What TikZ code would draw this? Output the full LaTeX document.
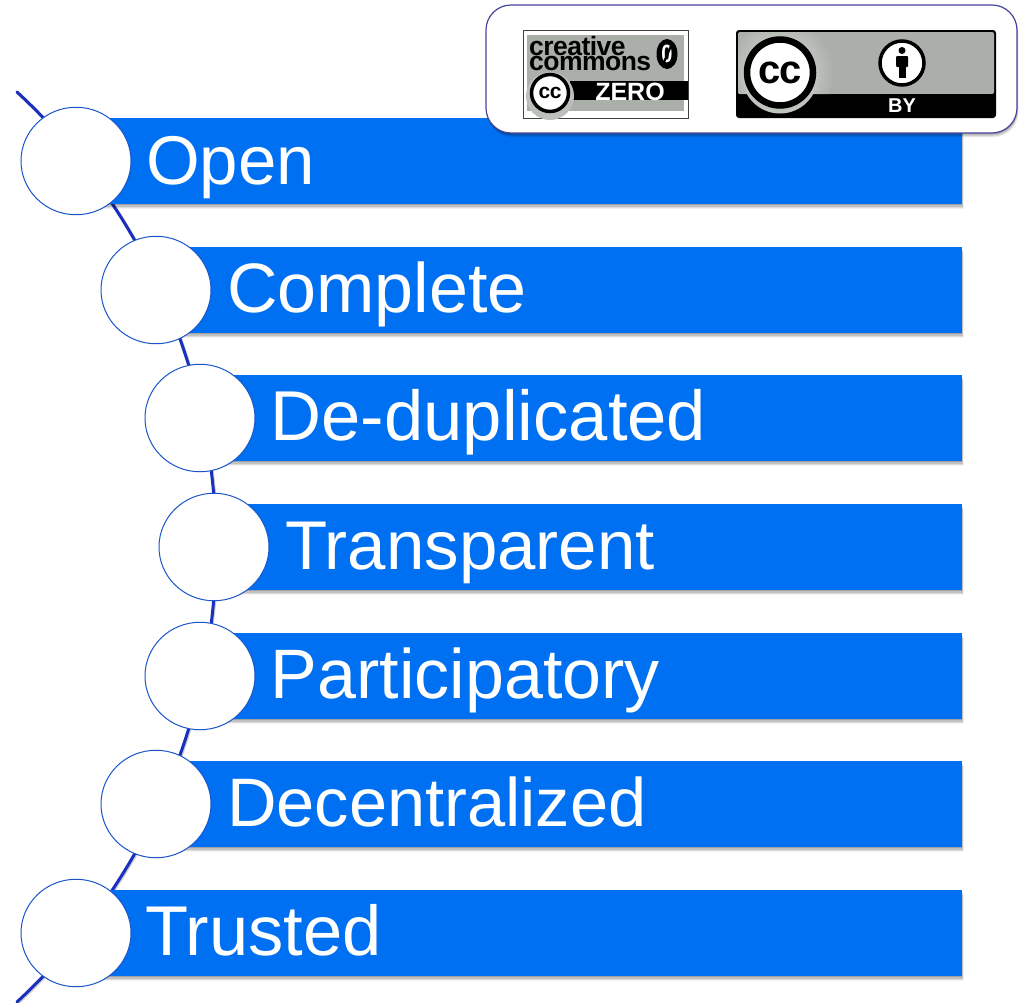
\documentclass[tikz,border=0pt]{standalone}
\usepackage{fontspec}
\usetikzlibrary{shapes.geometric}
\setmainfont{Liberation Sans}
\definecolor{barblue}{HTML}{0070F2}
\definecolor{ringblue}{HTML}{1A56C8}
\definecolor{arcblue}{HTML}{1A2FBE}
\definecolor{ccgray}{HTML}{AAB0A9}
\definecolor{paneledge}{HTML}{46469A}
\tikzset{
  softshadow/.style={preaction={fill=black,opacity=.05,transform canvas={xshift=1.5pt,yshift=-4.5pt}},
                     preaction={fill=black,opacity=.09,transform canvas={xshift=1pt,yshift=-3.5pt}},
                     preaction={fill=black,opacity=.12,transform canvas={xshift=.7pt,yshift=-2.5pt}},
                     preaction={fill=black,opacity=.16,transform canvas={xshift=.3pt,yshift=-1.2pt}}},
  bar/.style={rectangle,fill=barblue,draw=none,inner sep=0,minimum height=86pt,softshadow},
  disc/.style={ellipse,fill=white,draw=ringblue,line width=1pt,inner sep=0,minimum width=110pt,minimum height=107.5pt},
  bartext/.style={anchor=base west,inner sep=0,text=white,font=\fontsize{#1}{80}\selectfont},
  panel/.style={rectangle,rounded corners=25pt,fill=white,draw=paneledge,line width=1.2pt,inner sep=0,
                minimum width=531pt,minimum height=128pt},
  logotext/.style={inner sep=0,font=\bfseries},
}
\begin{document}
\begin{tikzpicture}[x=1pt,y=-1pt]
\useasboundingbox (0,0) rectangle (1022,1002);
\fill[white] (0,0) rectangle (1022,1002);
% backbone arc
\coordinate (arcstart) at (17,92);
\draw[black!40,opacity=.5,line width=3pt,line cap=round,transform canvas={xshift=1pt,yshift=-1pt}] (arcstart) arc[start angle=-47.24,end angle=47.24,radius=619.7];
\draw[arcblue,line width=3pt,line cap=round] (arcstart) arc[start angle=-47.24,end angle=47.24,radius=619.7];
% bars
\node[bar,minimum width=886pt] (b1) at (519,161) {};
\node[bar,minimum width=806pt] (b2) at (559,290) {};
\node[bar,minimum width=762pt] (b3) at (581,418) {};
\node[bar,minimum width=748pt] (b4) at (588,547) {};
\node[bar,minimum width=762pt] (b5) at (581,676) {};
\node[bar,minimum width=806pt] (b6) at (559,804) {};
\node[bar,minimum width=886pt] (b7) at (519,933) {};
% discs
\node[disc] (c1) at (76,161) {};
\node[disc] (c2) at (156,290) {};
\node[disc] (c3) at (200,418) {};
\node[disc] (c4) at (214,547) {};
\node[disc] (c5) at (200,676) {};
\node[disc] (c6) at (156,804) {};
\node[disc] (c7) at (76,933) {};
% labels
\node[bartext=69] (t1) at (146,184) {Open};
\node[bartext=70] (t2) at (227,312.5) {Complete};
\node[bartext=70.6] (t3) at (270.5,440) {De-duplicated};
\node[bartext=69] (t4) at (285,569) {Transparent};
\node[bartext=70] (t5) at (270.5,698) {Participatory};
\node[bartext=68.6] (t6) at (227,826) {Decentralized};
\node[bartext=70.5] (t7) at (145,955) {Trusted};
% licence panel
\node[panel,softshadow] (panel) at (751.5,69) {};
% CC0 badge
\draw[black!75,fill=white,line width=1pt] (523.5,30.5) rectangle (688.5,118);
\fill[ccgray] (527,35) rectangle (684,111);
\fill[black] (570,81) rectangle (688,100);
\node[logotext,anchor=north west,align=left,font=\bfseries\fontsize{26.5}{15.5}\selectfont] (cr) at (529,36) {\addfontfeature{LetterSpace=-2}creative\\\addfontfeature{LetterSpace=-2}commons};
\fill[black] (667,54) ellipse[x radius=10.5,y radius=15];
\node[logotext,text=white,font=\bfseries\fontsize{25}{25}\selectfont] (zero0) at (667,54) {\scalebox{.8}[1]{0}};
\fill[ccgray!80!white] (550,96) circle[radius=24];
\node[circle,fill=white,draw=black,line width=3.5pt,minimum size=37pt,inner sep=0,font=\bfseries\fontsize{21}{21}\selectfont] (cc1) at (550,93) {\addfontfeature{LetterSpace=-2}cc};
\node[logotext,text=white,font=\bfseries\fontsize{25}{25}\selectfont] (zero) at (630,92) {ZERO};
% CC BY badge
\fill[black,rounded corners=3pt] (736,30) rectangle (996,118);
\begin{scope}
\clip[rounded corners=2pt] (738,32) rectangle (994,94);
\fill[ccgray] (736,30) rectangle (996,94);
\shade[inner color=ccgray!35!white,outer color=ccgray] (780,72.5) circle[radius=54];
\end{scope}
\fill[ccgray!75!white] (780,75.5) circle[radius=38];
\node[circle,fill=white,draw=black,line width=6.5pt,minimum size=66pt,inner sep=0,font=\bfseries\fontsize{40}{40}\selectfont] (cc2) at (780,72.5) {\addfontfeature{LetterSpace=-2}cc};
\node[circle,fill=white,draw=black,line width=3.5pt,minimum size=44pt,inner sep=0] (bycircle) at (902,63) {};
\fill[black] (902,50.5) circle[radius=3.5];
\fill[black,rounded corners=1pt] (896,56) rectangle (908,67);
\fill[black] (898.5,66) rectangle (905.5,78);
\node[logotext,text=white,font=\bfseries\fontsize{20}{20}\selectfont] (by) at (902,106) {BY};
\draw[black,line width=2.2pt] (664,62) -- (671,46);
\end{tikzpicture}
\end{document}
